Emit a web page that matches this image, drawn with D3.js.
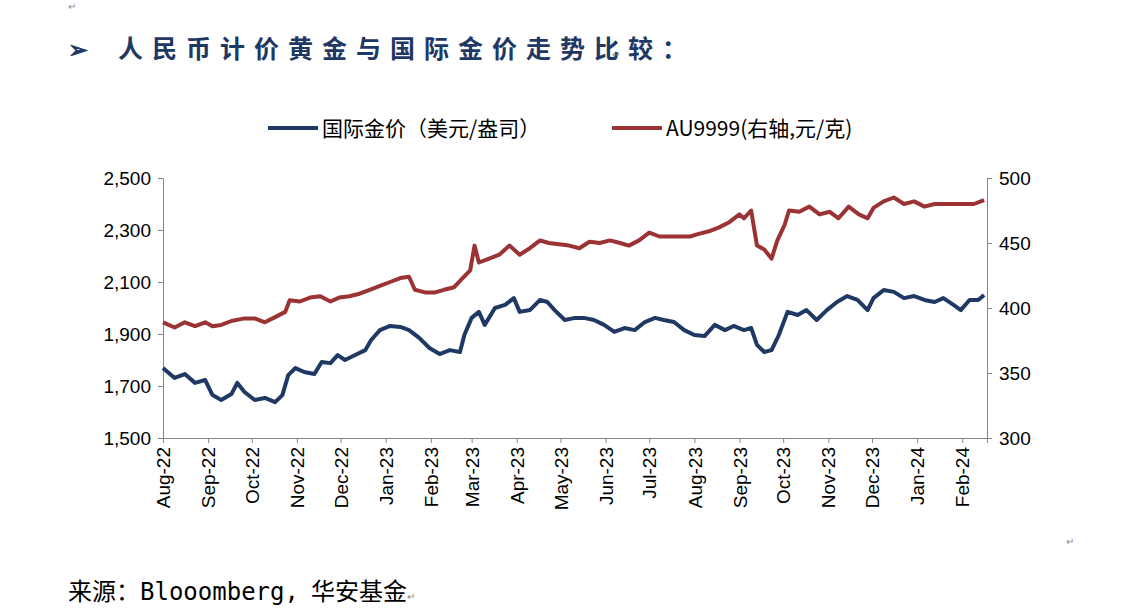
<!DOCTYPE html>
<html><head><meta charset="utf-8">
<script src="https://cdn.jsdelivr.net/npm/d3@7"></script>
<style>body{margin:0;background:#fff}</style></head>
<body><svg id="c" width="1143" height="615"></svg>
<script>
const startDate = "2022-08-01", endDate = "2024-02-18";
const usdDays = [0,8,15,22,29,34,40,47,51,56,63,70,77,82,86,91,97,104,109,115,120,125,132,139,143,149,156,163,169,176,183,190,197,204,207,212,217,221,228,235,241,245,252,259,264,269,276,283,289,296,303,310,317,324,331,338,344,351,358,365,372,379,386,392,399,404,408,413,418,423,429,436,442,449,456,463,470,477,484,488,495,502,509,516,523,530,536,543,548,554,560,564];
const usdVals = [1769,1731,1746,1712,1723,1665,1646,1669,1712,1677,1646,1654,1638,1665,1742,1769,1754,1746,1792,1788,1819,1800,1819,1838,1877,1915,1931,1927,1915,1885,1846,1823,1838,1831,1896,1962,1985,1935,2000,2012,2038,1985,1992,2031,2023,1992,1954,1962,1962,1954,1935,1908,1923,1915,1946,1962,1954,1946,1915,1896,1892,1935,1915,1931,1915,1923,1858,1831,1838,1896,1985,1973,1992,1954,1992,2023,2046,2031,1992,2038,2069,2062,2038,2046,2031,2023,2038,2012,1992,2031,2031,2050];
const cnyDays = [0,8,15,22,29,34,40,47,56,63,70,77,84,87,94,101,108,115,121,128,135,142,149,156,163,169,173,180,187,193,200,205,211,214,217,224,231,238,245,252,259,265,272,279,286,293,300,307,314,320,327,334,341,348,355,362,368,375,382,389,396,399,404,408,413,418,422,427,430,437,444,451,458,464,471,478,484,488,495,502,509,516,523,530,536,543,550,557,564];
const cnyVals = [389,385,389,386,389,386,387,390,392,392,389,393,397,406,405,408,409,405,408,409,411,414,417,420,423,424,414,412,412,414,416,422,429,448,435,438,441,448,441,446,452,450,449,448,446,451,450,452,450,448,452,458,455,455,455,455,457,459,462,466,472,469,475,448,445,438,452,464,475,474,478,472,474,469,478,472,469,477,482,485,480,482,478,480,480,480,480,480,483];
const leftTicks = [1500,1700,1900,2100,2300,2500];
const rightTicks = [300,350,400,450,500];
const series = [{name:"国际金价（美元/盎司）",color:"#1f3864"},{name:"AU9999(右轴,元/克)",color:"#9b3234"}];

const svg = d3.select("#c");
const t0 = new Date(startDate+"T00:00:00");
const x = d3.scaleTime().domain([t0,new Date(endDate+"T00:00:00")]).range([163,987]);
const yL = d3.scaleLinear().domain([1500,2500]).range([438,178]);
const yR = d3.scaleLinear().domain([300,500]).range([438,178]);
const fmtL = d3.format(",");
const font = "Liberation Sans, Arial, sans-serif";

svg.append("text").attr("x",68).attr("y",58).attr("font-family","Noto Sans CJK SC").attr("font-weight","bold").attr("font-size",24).attr("fill","#1f3864").text("➢");
svg.append("text").attr("x",118).attr("y",58).attr("font-family","Noto Sans CJK SC").attr("font-weight","bold").attr("font-size",25).attr("letter-spacing",9).attr("fill","#1f3864").text("人民币计价黄金与国际金价走势比较：");
svg.append("text").attr("x",612).attr("y",58).attr("font-size",10).attr("fill","#888").text("↵");
svg.append("text").attr("x",68).attr("y",10).attr("font-size",10).attr("fill","#888").text("↵");
svg.append("text").attr("x",1066).attr("y",545).attr("font-size",10).attr("fill","#888").text("↵");
const ft = svg.append("text").attr("x",68).attr("y",600).attr("font-family","Noto Sans CJK SC").attr("font-size",24).attr("fill","#000");
ft.append("tspan").text("来源：");
ft.append("tspan").attr("font-family","DejaVu Sans Mono").text("Blooomberg,");
ft.append("tspan").attr("dx",12).text("华安基金");
ft.append("tspan").attr("font-size",10).attr("fill","#888").text("↵");

const gL = svg.append("g").attr("transform","translate(163,0)").call(d3.axisLeft(yL).tickValues(leftTicks).tickFormat(fmtL).tickSize(5));
const gR = svg.append("g").attr("transform","translate(987,0)").call(d3.axisRight(yR).tickValues(rightTicks).tickSize(5));
const gX = svg.append("g").attr("transform","translate(0,438)").call(d3.axisBottom(x).ticks(d3.timeMonth.every(1)).tickFormat(d3.timeFormat("%b-%y")).tickSize(5));
[gL,gR,gX].forEach(g=>{g.selectAll("path,line").attr("stroke","#868686");g.selectAll("text").attr("font-family",font).attr("font-size",19).attr("fill","#000");});
gL.selectAll("text").attr("x",-12);
gR.selectAll("text").attr("x",12);
gX.selectAll("text").attr("transform","rotate(-90)").attr("text-anchor","end").attr("x",-9).attr("y",0).attr("dy","0.35em");

const mk = (days,vals,ys)=>days.map((d,i)=>[x(d3.timeDay.offset(t0,d)),ys(vals[i])]);
const line = d3.line().curve(d3.curveLinear);
svg.append("path").attr("d",line(mk(cnyDays,cnyVals,yR))).attr("fill","none").attr("stroke",series[1].color).attr("stroke-width",4).attr("stroke-linejoin","round");
svg.append("path").attr("d",line(mk(usdDays,usdVals,yL))).attr("fill","none").attr("stroke",series[0].color).attr("stroke-width",4).attr("stroke-linejoin","round");

const lg = [[268,series[0]],[612,series[1]]];
lg.forEach(([lx,s])=>{
  svg.append("line").attr("x1",lx).attr("x2",lx+50).attr("y1",128).attr("y2",128).attr("stroke",s.color).attr("stroke-width",4);
  svg.append("text").attr("x",lx+54).attr("y",136).attr("font-family","Noto Sans CJK SC").attr("font-size",21).attr("fill","#000").text(s.name);
});
</script></body></html>
